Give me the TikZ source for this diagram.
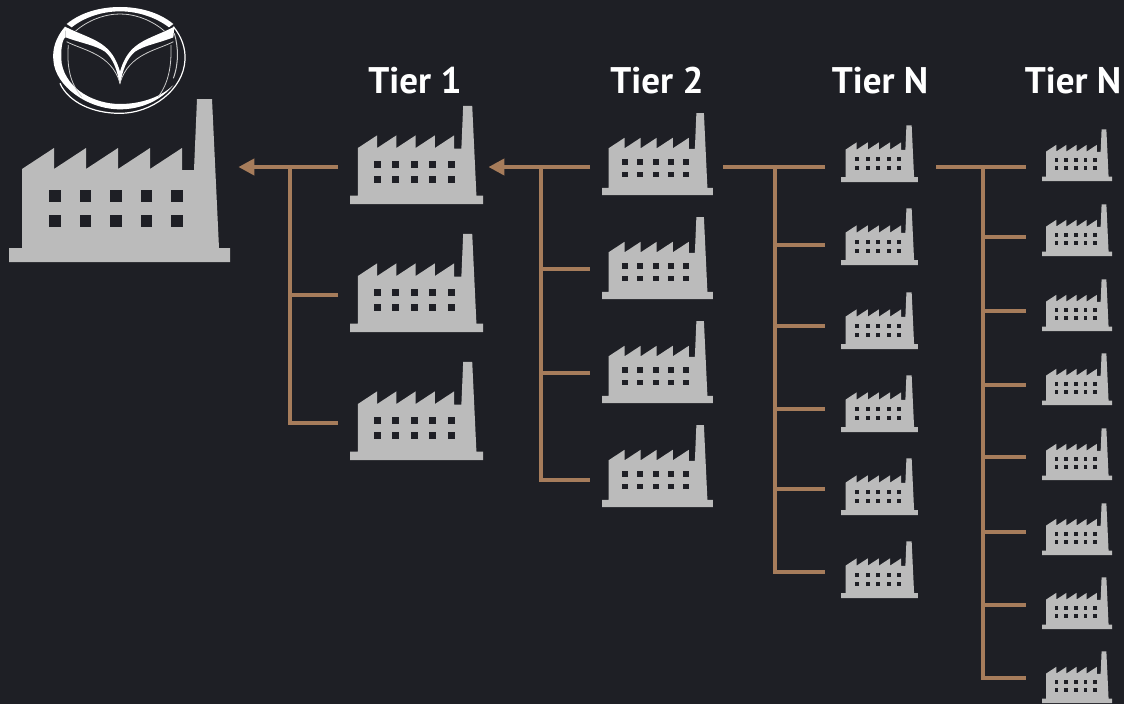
\documentclass[tikz,border=0pt]{standalone}
\usepackage{fontspec}
\setmainfont{PT Sans}
\usetikzlibrary{arrows.meta}
\definecolor{bgdark}{RGB}{30,31,37}
\definecolor{plantgray}{RGB}{187,187,187}
\definecolor{linkbrown}{RGB}{166,124,91}
\tikzset{
  plantbox/.style={anchor=south west, inner sep=0pt, minimum width=221*#1 pt, minimum height=163*#1 pt},
  plantshape/.pic={
    \begin{scope}[x=#1 pt, y=#1 pt]
      \fill[plantgray] (0,0) -- (0,14) -- (13,14) -- (13,93) -- (45,114) -- (45,93) -- (77,114) -- (77,93)
        -- (109,114) -- (109,93) -- (141,114) -- (141,93) -- (173,114) -- (173,92) -- (185,92)
        -- (188,163) -- (203,163) -- (210,14) -- (221,14) -- (221,0) -- cycle;
      \foreach \wx in {40,70.5,101,131.5,162}
        \foreach \wy in {35,60}
          \fill[bgdark] (\wx,\wy) rectangle +(11.6,11.6);
    \end{scope}},
  link/.style={draw=linkbrown, line width=4.7pt},
  tier/.style={text=white, font=\fontsize{37}{37}\selectfont\bfseries, anchor=base},
}
% name, scale, left, bottom
\newcommand{\plant}[4]{
  \node[plantbox=#2] (#1) at (#3,#4) {};
  \pic at (#1.south west) {plantshape=#2};
}
\begin{document}
\begin{tikzpicture}[x=1pt, y=-1pt]
\fill[bgdark] (0,0) rectangle (1124,704);
\useasboundingbox (0,0) rectangle (1124,704);

% logo, in coordinates of the zoomed crop
\begin{scope}[shift={(45,0)}, x=1/3 pt, y=-1/3 pt]
  \fill[white] (65,72) .. controls (110,35) and (170,21) .. (225,21) .. controls (280,21) and (340,35) .. (385,72)
    -- (372,82) .. controls (330,50) and (275,34) .. (225,34) .. controls (175,34) and (120,50) .. (80,82) -- cycle;
  \fill[white] (60,80) .. controls (110,105) and (150,115) .. (180,140) .. controls (205,160) and (218,190) .. (225,215)
    .. controls (232,190) and (245,160) .. (270,140) .. controls (300,115) and (340,105) .. (388,80)
    -- (385,112) .. controls (340,130) and (300,135) .. (270,155) .. controls (245,175) and (232,215) .. (226,250)
    -- (223,250) .. controls (218,215) and (205,175) .. (180,155) .. controls (150,135) and (110,130) .. (62,112) -- cycle;
  \fill[white] (60,80) .. controls (30,115) and (22,150) .. (25,180) .. controls (30,260) and (130,328) .. (225,328)
    .. controls (290,328) and (350,300) .. (385,255) .. controls (350,290) and (290,312) .. (225,312)
    .. controls (150,312) and (65,270) .. (50,190) .. controls (46,150) and (52,115) .. (62,112) -- cycle;
  \draw[white, line width=1.2pt] (385,80) .. controls (410,110) and (422,145) .. (420,180) .. controls (415,270) and (320,340) .. (225,340)
    .. controls (140,340) and (70,305) .. (45,250);
  \draw[white!80!black, line width=1pt] (388,100) .. controls (400,140) and (402,190) .. (385,235);
  \draw[white!80!black, line width=.8pt] (92,93) .. controls (130,60) and (180,42) .. (225,42) .. controls (270,42) and (320,60) .. (358,93);
  \draw[white!80!black, line width=.8pt] (65,125) .. controls (110,150) and (200,160) .. (225,250) .. controls (250,160) and (340,150) .. (385,125);
  \draw[white!80!black, line width=.8pt] (70,135) .. controls (65,200) and (75,250) .. (110,290);
  \draw[white!80!black, line width=.8pt] (378,135) .. controls (380,200) and (370,250) .. (340,290);
\end{scope}

% factories
\plant{main}{1}{9}{262}
\foreach \n/\y in {a/204,b/332,c/460} {
  \plant{f1\n}{.602}{350}{\y}
}
\foreach \n/\y in {a/195,b/299,c/403,d/507} {
  \plant{f2\n}{.502}{602}{\y}
}
\foreach \n/\y in {a/182,b/265,c/349,d/432,e/515,f/598} {
  \plant{f3\n}{.348}{841}{\y}
}
\foreach \n/\y in {a/181,b/256,c/331,d/405,e/480,f/555,g/629,h/703} {
  \plant{f4\n}{.317}{1042}{\y}
}

% tier labels
\node[tier] (t1) at (415,93) {Tier 1};
\node[tier] (t2) at (657,93) {Tier 2};
\node[tier] (t3) at (880,93) {Tier N};
\node[tier] (t4) at (1073,93) {Tier N};

% buses
\coordinate (bus1) at (290,167);
\coordinate (bus2) at (541,167);
\coordinate (bus3) at (775,167);
\coordinate (bus4) at (983,167);
\draw[link, -{Triangle[length=16pt,width=16pt]}, shorten <=12pt, shorten >=8pt] (f1a.west |- bus1) -- (main.east |- bus1);
\draw[link, -{Triangle[length=16pt,width=16pt]}, shorten <=12pt, shorten >=5pt] (f2a.west |- bus2) -- (f1a.east |- bus2);
\draw[link, shorten <=16pt, shorten >=10pt] (f3a.west |- bus3) -- (f2a.east |- bus3);
\draw[link, shorten <=16pt, shorten >=18pt] (f4a.west |- bus4) -- (f3a.east |- bus4);
\foreach \n/\b in {b/295,c/423} {
  \coordinate (j1\n) at (290,\b);
  \draw[link, shorten >=12pt] (j1\n) -- (f1\n.west |- j1\n);
}
\foreach \n/\b in {b/269,c/373,d/480} {
  \coordinate (j2\n) at (541,\b);
  \draw[link, shorten >=12pt] (j2\n) -- (f2\n.west |- j2\n);
}
\foreach \n/\b in {b/245,c/326,d/409,e/489,f/572} {
  \coordinate (j3\n) at (775,\b);
  \draw[link, shorten >=16pt] (j3\n) -- (f3\n.west |- j3\n);
}
\foreach \n/\b in {b/237,c/311,d/385,e/457,f/532,g/605,h/678} {
  \coordinate (j4\n) at (983,\b);
  \draw[link, shorten >=16pt] (j4\n) -- (f4\n.west |- j4\n);
}
\draw[link, shorten >=-2pt] (bus1) -- (j1c);
\draw[link, shorten >=-2pt] (bus2) -- (j2d);
\draw[link, shorten >=-2pt] (bus3) -- (j3f);
\draw[link, shorten >=-2pt] (bus4) -- (j4h);
\end{tikzpicture}
\end{document}
